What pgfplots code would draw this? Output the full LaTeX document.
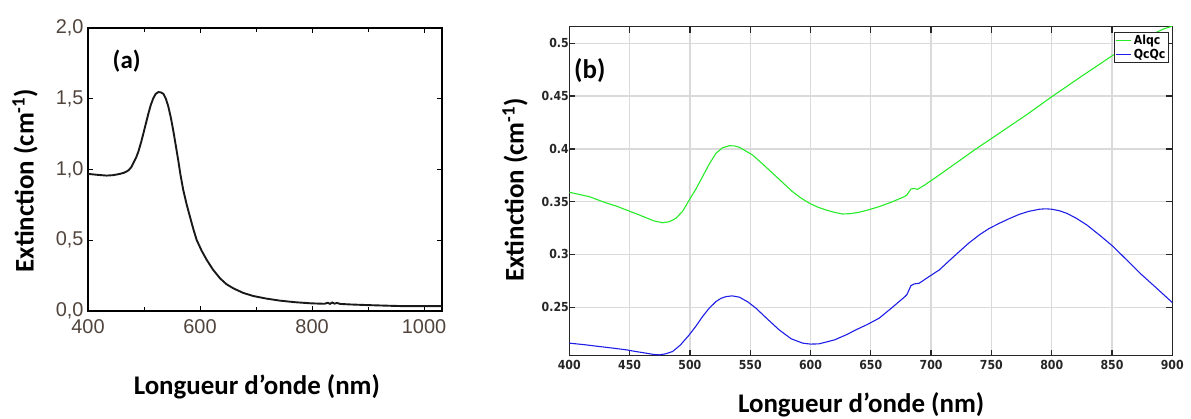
\documentclass[border=0pt]{standalone}
\usepackage{fontspec}
\setmainfont{Carlito}
\newfontfamily\lib{Liberation Sans}
\newfontfamily\dvc{DejaVu Sans}[FakeStretch=0.88]
\usepackage{pgfplots}
\pgfplotsset{compat=1.18}
\definecolor{agray}{RGB}{80,68,60}
\definecolor{axisgray}{RGB}{38,38,38}
\definecolor{gridgray}{RGB}{218,218,218}
\definecolor{cgreen}{RGB}{40,235,40}
\definecolor{cblue}{RGB}{30,30,230}
\begin{document}
\begin{tikzpicture}
\useasboundingbox (0,0) rectangle (1191bp,419bp);
% ---------- panel (a)
\begin{axis}[
  at={(88bp,108bp)}, anchor=south west, scale only axis,
  width=354bp, height=283bp,
  xmin=400, xmax=1032, ymin=0, ymax=2,
  xtick={400,600,800,1000}, xticklabels={400,600,800,1000},
  minor xtick={500,700,900},
  ytick={0,0.5,1,1.5,2}, yticklabels={{0,0},{0,5},{1,0},{1,5},{2,0}},
  tick align=inside,
  major tick length=5bp, minor tick length=4bp,
  axis line style={line width=1.3bp, black},
  every tick/.style={black, line width=1bp},
  tick label style={font=\lib\fontsize{20}{20}\selectfont, text=agray},
  xticklabel style={yshift=-5bp},
  yticklabel style={xshift=-1bp},
  label style={font=\bfseries\fontsize{27}{27}\selectfont},
  xlabel={Longueur d’onde (nm)},
  ylabel={Extinction (cm\textsuperscript{-1})},
  xlabel style={at={(axis description cs:0.477,-0.268)}, anchor=center},
  ylabel style={at={(axis description cs:-0.178,0.461)}, anchor=center},
]
\addplot[line width=1.9bp, color=black!90] coordinates {
(400,0.969) (415,0.963) (433,0.957) (445,0.960) (457,0.969) (465,0.978)
(472,0.993) (477,1.015) (481,1.045) (486,1.085) (490,1.127) (495,1.195)
(499,1.257) (504,1.335) (508,1.398) (512,1.455) (516.6,1.504) (521,1.535)
(525.6,1.547) (530,1.545) (534.5,1.535) (539,1.500) (543.4,1.445) (548,1.365)
(552,1.280) (556.5,1.175) (561,1.068) (565,0.965) (570,0.856) (576,0.755)
(582,0.667) (588,0.580) (594,0.502) (603,0.425) (612,0.361) (623,0.293)
(635.7,0.231) (647,0.190) (659.5,0.160) (677,0.128) (695,0.106) (718,0.088)
(743,0.073) (770,0.062) (799,0.054) (822,0.051) (828,0.058) (832,0.050)
(836,0.060) (840,0.052) (845,0.057) (850,0.050) (870,0.046) (897.5,0.042)
(930,0.038) (957,0.035) (1000,0.034) (1032,0.034)
};
\node[font=\bfseries\fontsize{25}{25}\selectfont] at (axis cs:469,1.767) {(a)};
\end{axis}
% ---------- panel (b)
\begin{axis}[
  at={(569.3bp,63.3bp)}, anchor=south west, scale only axis,
  width=603bp, height=329bp,
  xmin=400, xmax=900, ymin=0.204, ymax=0.5158,
  xtick={400,450,500,550,600,650,700,750,800,850,900},
  xticklabels={400,450,500,550,600,650,700,750,800,850,900},
  ytick={0.25,0.3,0.35,0.4,0.45,0.5},
  yticklabels={0.25,0.3,0.35,0.4,0.45,0.5},
  grid=major, grid style={line width=1.3bp, gridgray},
  tick align=inside, major tick length=6bp,
  every tick/.style={axisgray, line width=1.3bp},
  axis line style={line width=1.3bp, axisgray},
  tick label style={font=\dvc\bfseries\fontsize{12.5}{13}\selectfont, text=axisgray},
  xticklabel style={yshift=-1bp},
  yticklabel style={xshift=3bp},
  label style={font=\bfseries\fontsize{27}{27}\selectfont},
  xlabel={Longueur d’onde (nm)},
  ylabel={Extinction (cm\textsuperscript{-1})},
  xlabel style={at={(axis description cs:0.484,-0.15)}, anchor=center},
  ylabel style={at={(axis description cs:-0.09,0.504)}, anchor=center},
  legend style={at={(axis description cs:0.9945,0.985)}, anchor=north east,
    font=\dvc\bfseries\fontsize{12.5}{12.5}\selectfont, draw=axisgray, line width=1.2bp,
    inner sep=1pt, row sep=-1pt, fill=white},
  legend cell align=left,
  legend image code/.code={\draw[#1] (0bp,0bp) -- (15bp,0bp);},
]
\addplot[line width=1.1bp, color=cgreen] coordinates {
(400,0.3589) (416.6,0.3547) (430,0.3490) (438.7,0.3459) (458,0.3374) (470,0.3318)
(477.4,0.3300) (483,0.3310) (488.5,0.3343) (494,0.3410) (499.5,0.3516) (505,0.3620)
(510.5,0.3737) (516,0.3855) (521.6,0.3958) (527,0.4010) (532.7,0.4030) (537,0.4028)
(541,0.4015) (552,0.3942) (560,0.3860) (568.6,0.3769) (577,0.3680) (585,0.3595)
(592,0.3535) (599,0.3485) (606,0.3448) (612.8,0.3421) (620,0.3398) (626.6,0.3383)
(633,0.3386) (640.5,0.3400) (648,0.3422) (657,0.3453) (667,0.3495) (677.8,0.3547)
(680,0.3565) (683.3,0.3620) (686,0.3625) (688.8,0.3617) (695,0.3660) (706.8,0.3753)
(720,0.3860) (736,0.3990) (756.5,0.4148) (780,0.4330) (800,0.4494) (825,0.4690)
(851,0.4889) (870,0.5010) (892,0.5133) (900,0.5164)
};
\addlegendentry{Alqc}
\addplot[line width=1.1bp, color=cblue] coordinates {
(400,0.2159) (412,0.2145) (424.9,0.2127) (436,0.2112) (447,0.2096) (455,0.2080)
(463.6,0.2064) (470,0.2052) (474.6,0.2048) (480,0.2058) (485.7,0.2080) (492,0.2140)
(499.5,0.2238) (505,0.2320) (510.5,0.2411) (516,0.2490) (521.6,0.2553) (526,0.2585)
(529.9,0.2600) (535,0.2607) (541,0.2595) (548,0.2550) (554.8,0.2490) (564,0.2390)
(574,0.2285) (584,0.2200) (593.5,0.2159) (600,0.2150) (607,0.2152) (620,0.2190)
(630,0.2240) (637.6,0.2285) (647,0.2335) (657,0.2396) (667,0.2490) (677.8,0.2595)
(680,0.2620) (683.3,0.2705) (686,0.2720) (690.2,0.2727) (697,0.2780) (706.8,0.2853)
(715,0.2940) (723.4,0.3027) (731,0.3105) (740,0.3185) (748,0.3245) (756.6,0.3295)
(765,0.3340) (773.2,0.3380) (781,0.3408) (789.8,0.3428) (795,0.3432) (800,0.3428)
(806,0.3415) (812.4,0.3390) (820,0.3345) (829,0.3280) (840,0.3180) (851,0.3074)
(862,0.2950) (873.2,0.2822) (886,0.2690) (900,0.2544)
};
\addlegendentry{QcQc}
\node[font=\bfseries\fontsize{27}{27}\selectfont] at (axis cs:417,0.4747) {(b)};
\end{axis}
\end{tikzpicture}
\end{document}
